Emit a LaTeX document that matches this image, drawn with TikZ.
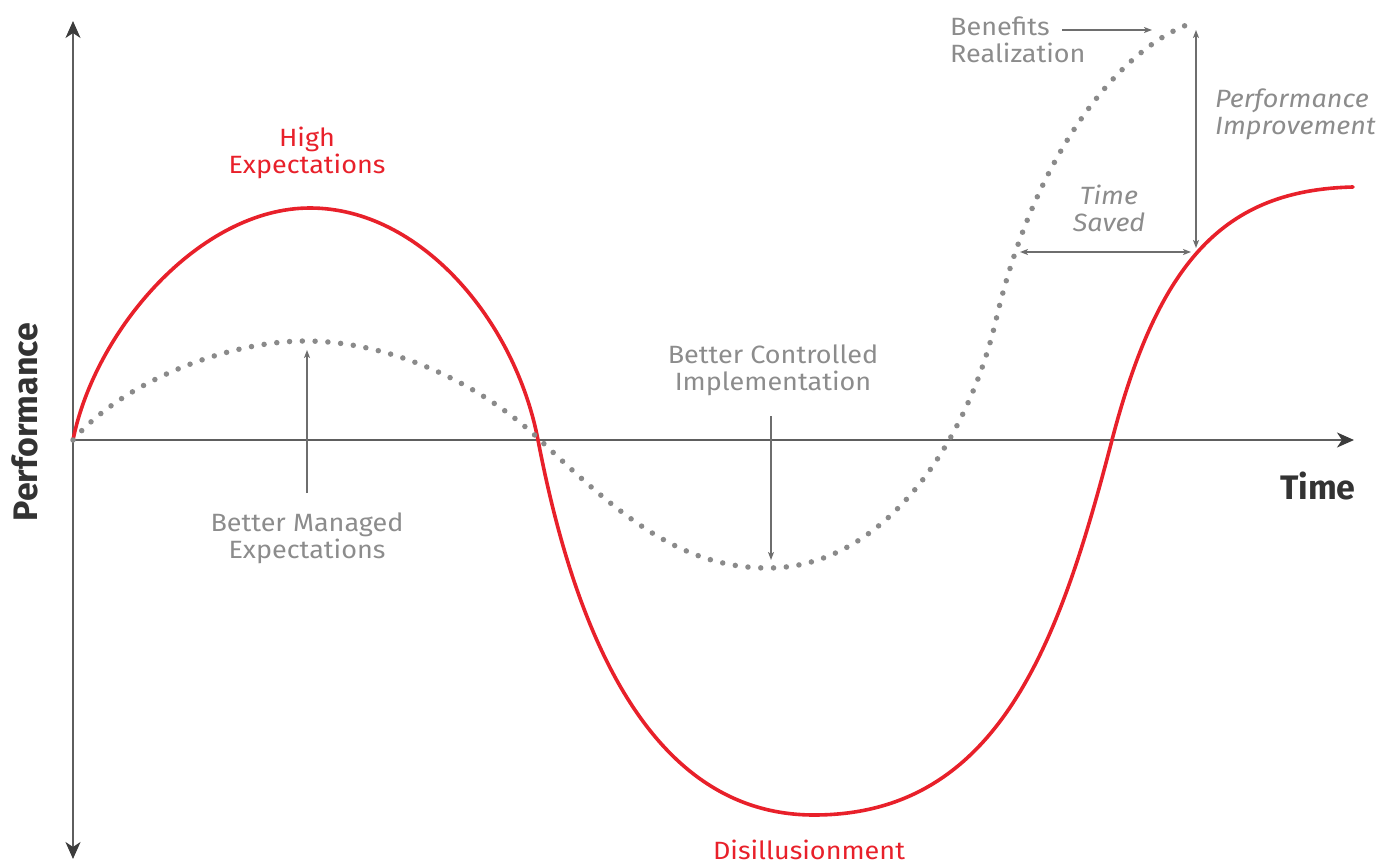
\documentclass[tikz,border=0pt]{standalone}
\usepackage{fontspec}
\setmainfont{Fira Sans}
\newfontfamily\lblfont[FakeStretch=1.08]{Fira Sans}
\usetikzlibrary{arrows.meta}
\definecolor{fjred}{HTML}{E8202A}
\definecolor{lblgrey}{HTML}{8C8C8C}
\definecolor{axisgrey}{HTML}{5E5E5E}
\definecolor{tipgrey}{HTML}{3C3C3C}
\definecolor{dotgrey}{HTML}{8A8A8A}
\definecolor{annogrey}{HTML}{6E6E6E}
\definecolor{titledark}{HTML}{333333}
\begin{document}
\begin{tikzpicture}[x=1pt,y=-1pt,
  axisline/.style={draw=axisgrey,line width=2pt,
    -{Stealth[length=17pt,width=15pt,inset=5pt,color=tipgrey]}},
  redcurve/.style={draw=fjred,line width=3.6pt,line cap=round},
  dotcurve/.style={draw=dotgrey,line width=5.5pt,line cap=round,dash pattern=on 0pt off 12.8pt},
  anno/.style={draw=annogrey,line width=1.4pt,-{Stealth[length=8pt,width=6pt,inset=2pt]}},
  annotwo/.style={draw=annogrey,line width=1.4pt,{Stealth[length=8pt,width=6pt,inset=2pt]}-{Stealth[length=8pt,width=6pt,inset=2pt]}},
  lbl/.style={text=lblgrey,font=\lblfont\fontsize{25}{27}\selectfont,align=center,inner sep=0pt},
  lblit/.style={lbl,font=\lblfont\fontsize{25}{27}\selectfont\itshape},
  redlbl/.style={lbl,text=fjred},
  axistitle/.style={text=titledark,font=\fontsize{34}{40}\selectfont\bfseries,inner sep=0pt}
]
\useasboundingbox (0,0) rectangle (1390,867);

% axes
\coordinate (O) at (73,440);
\coordinate (ytop) at (73,21);
\coordinate (ybot) at (73,859);
\coordinate (xend) at (1354,440);
\draw[axisline] (O) -- (ytop);
\draw[axisline] (O) -- (ybot);
\draw[axisline] (O) -- (xend);

% red curve
\coordinate (r0) at (73,440);
\coordinate (r1) at (310,208);
\coordinate (r2) at (538,440);
\coordinate (r3) at (814,815);
\coordinate (r4) at (1112,440);
\coordinate (r5) at (1353,187);
\draw[redcurve] (r0) .. controls (95,330) and (200,208) .. (r1)
  .. controls (420,208) and (515,320) .. (r2)
  .. controls (575,633) and (650,815) .. (r3)
  .. controls (1000,815) and (1060,640) .. (r4)
  .. controls (1159,260) and (1225,190) .. (r5);

% dotted curve
\coordinate (d0) at (73,440);
\coordinate (d1) at (305,341);
\coordinate (d2) at (540,440);
\coordinate (d3) at (768,568);
\coordinate (d4) at (996,320);
\coordinate (d5) at (1195,22);
\draw[dotcurve] (d0) .. controls (125,380) and (230,341) .. (d1)
  .. controls (390,341) and (480,383) .. (d2)
  .. controls (618,514) and (680,568) .. (d3)
  .. controls (885,568) and (968,440) .. (d4)
  .. controls (1035,152) and (1122,45) .. (d5);

% labels
\node[redlbl] (high) at (307,153) {High\\Expectations};
\node[redlbl] (dis) at (809,850) {Disillusionment};
\node[lbl] (bme) at (307,538) {Better Managed\\Expectations};
\node[lbl] (bci) at (773,370) {Better Controlled\\Implementation};
\node[lbl,align=left,anchor=west] (ben) at (950,40) {Benefits\\Realization};
\node[lblit,align=left,anchor=west] (perf) at (1215,114) {Performance\\Improvement};
\node[lblit] (ts) at (1109,208) {Time\\Saved};
\node[axistitle] (time) at (1318,486) {Time};
\node[axistitle,rotate=90] (perfax) at (25,422) {Performance};

% annotation arrows
\coordinate (bmeA) at (307,493);
\coordinate (bmeB) at (307,350);
\draw[anno] (bmeA) -- (bmeB);
\coordinate (bciA) at (771,416);
\coordinate (bciB) at (771,560);
\draw[anno] (bciA) -- (bciB);
\coordinate (benA) at (1062,30);
\coordinate (benB) at (1152,30);
\draw[anno] (benA) -- (benB);
\coordinate (piA) at (1196,30);
\coordinate (piB) at (1196,248);
\draw[annotwo] (piA) -- (piB);
\coordinate (tsA) at (1020,252);
\coordinate (tsB) at (1191,252);
\draw[annotwo] (tsA) -- (tsB);
\end{tikzpicture}
\end{document}
